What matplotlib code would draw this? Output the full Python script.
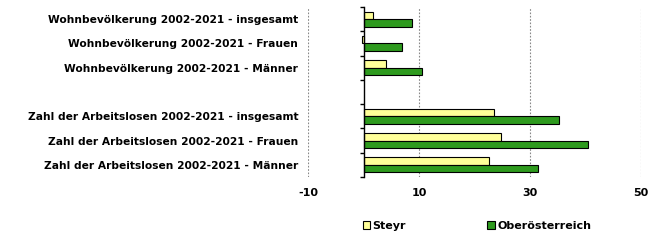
import matplotlib
matplotlib.use("Agg")
import matplotlib.pyplot as plt
import numpy as np
from matplotlib.patches import Patch

categories = [
    "Wohnbevölkerung 2002-2021 - insgesamt",
    "Wohnbevölkerung 2002-2021 - Frauen",
    "Wohnbevölkerung 2002-2021 - Männer",
    "",
    "Zahl der Arbeitslosen 2002-2021 - insgesamt",
    "Zahl der Arbeitslosen 2002-2021 - Frauen",
    "Zahl der Arbeitslosen 2002-2021 - Männer",
]
steyr = [1.8, -0.2, 4.0, np.nan, 23.6, 24.7, 22.7]
ooe = [8.7, 6.9, 10.5, np.nan, 35.3, 40.4, 31.5]
series_names = ["Steyr", "Oberösterreich"]
x_ticks = [-10, 10, 30, 50]

plt.rcParams['font.family'] = ['Verdana', 'DejaVu Sans']

fig = plt.figure(figsize=(6.62, 2.44), dpi=100)
ax = fig.add_axes([308/662, 1-177/244, 333/662, 170/244])

n = len(categories)
y = np.arange(n)
h = 0.31
ax.barh(y - h/2, steyr, height=h, color='#FFFF99', edgecolor='black', linewidth=0.8, zorder=3)
ax.barh(y + h/2, ooe, height=h, color='#2E9A1E', edgecolor='black', linewidth=0.8, zorder=3)

ax.set_xlim(-10, 50)
ax.set_ylim(n - 0.5, -0.5)
ax.set_xticks(x_ticks)
ax.set_xticklabels([str(v) for v in x_ticks], fontsize=8, fontweight='bold')
ax.tick_params(axis='x', length=0, pad=8)
ax.grid(axis='x', color='#888888', linestyle=(0, (1.5, 1.5)), linewidth=0.8, zorder=0)

for s in ['top', 'right', 'bottom']:
    ax.spines[s].set_visible(False)
ax.spines['left'].set_position(('data', 0))
ax.spines['left'].set_linewidth(1.0)
ax.spines['left'].set_zorder(4)

ax.set_yticks(y)
ax.set_yticklabels(categories, fontsize=7.7, fontweight='bold')
ax.tick_params(axis='y', which='major', length=0, pad=47)
ax.set_yticks(np.arange(n + 1) - 0.5, minor=True)
ax.tick_params(axis='y', which='minor', length=3, width=1.0, direction='out')

handles = [Patch(facecolor='#FFFF99', edgecolor='black', linewidth=0.8),
           Patch(facecolor='#2E9A1E', edgecolor='black', linewidth=0.8)]
leg = fig.legend(handles, series_names, loc='center', bbox_to_anchor=(477/662, 1-226/244),
                 ncol=2, frameon=False, prop={'size': 8, 'weight': 'bold'},
                 handlelength=0.7, handleheight=0.7, handletextpad=0.2, columnspacing=7.3)

fig.savefig("out.png", dpi=100)
